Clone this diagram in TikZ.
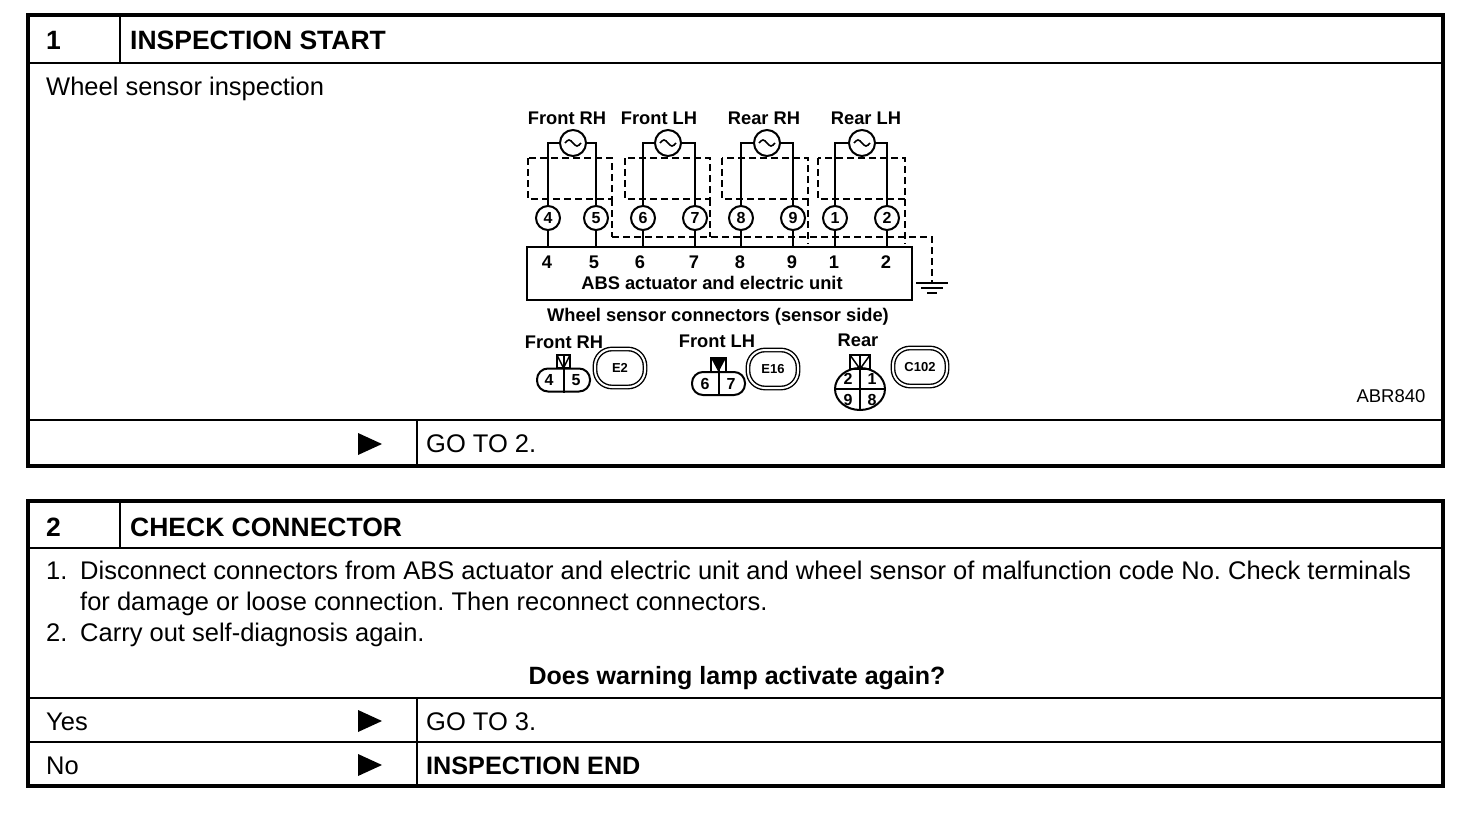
\documentclass[tikz,border=0pt]{standalone}
\usepackage{fontspec}
\setmainfont{Liberation Sans}
\usetikzlibrary{calc,shapes.geometric}
\frenchspacing
\begin{document}
\begin{tikzpicture}[x=1pt,y=-1pt,
  frame/.style={line width=4pt},
  rulel/.style={line width=2.5pt},
  body/.style={anchor=base west, inner sep=0pt, font=\fontsize{25.5}{30}\selectfont},
  bodyb/.style={anchor=base west, inner sep=0pt, font=\fontsize{25.2}{30}\selectfont\bfseries},
  headb/.style={anchor=base west, inner sep=0pt, font=\fontsize{26.5}{30}\selectfont\bfseries},
  wire/.style={line width=2pt},
  shield/.style={line width=2pt, dash pattern=on 7pt off 4pt},
  lab/.style={inner sep=0pt, font=\fontsize{18.3}{20}\selectfont\bfseries},
  sens/.style={circle, draw, line width=2pt, minimum size=26pt, inner sep=0pt},
  pin/.style={circle, draw, line width=2pt, minimum size=24pt, inner sep=0pt, font=\fontsize{16}{16}\selectfont\bfseries},
  conn/.style={draw, line width=2pt, rounded corners=11pt, minimum width=53pt, minimum height=23pt, inner sep=0pt},
  cnum/.style={inner sep=0pt, font=\fontsize{16}{16}\selectfont\bfseries},
  badge/.style={draw, line width=1.4pt, double distance=2pt, rounded corners=17pt, minimum height=38pt, inner sep=0pt, font=\fontsize{13}{13}\selectfont\bfseries}
]
\fill[white] (0,0) rectangle (1472,824);
\useasboundingbox (0,0) rectangle (1472,824);

% ---------- table 1 ----------
\draw[frame] (28,15) rectangle (1443,466);
\draw[rulel] (28,63) -- (1443,63);
\draw[rulel] (120,15) -- (120,63);
\draw[rulel] (28,420) -- (1443,420);
\draw[rulel] (417,420) -- (417,466);
\node[headb] (n1) at (46,50) {1};
\node[headb] (t1) at (130,50) {INSPECTION START};
\node[body] (w1) at (46,96) {Wheel sensor inspection};
\fill (358,433) -- (382,444) -- (358,455) -- cycle;
\node[body] (g1) at (426,452) {GO TO 2.};
\node[inner sep=0pt, font=\fontsize{18.5}{20}\selectfont] (abr) at (1391,396) {ABR840};

% ---------- wiring diagram ----------
\foreach \n/\x in {s1/573, s2/668, s3/767, s4/862}{
  \node[sens] (\n) at (\x,143) {};
  \draw[line width=1.6pt] ($(\n)+(-8,0)$) sin ++(4,-3) cos ++(4,3) sin ++(4,3) cos ++(4,-3);
}
\node[lab] (l1) at (567,118) {Front RH};
\node[lab] (l2) at (659,118) {Front LH};
\node[lab] (l3) at (764,118) {Rear RH};
\node[lab] (l4) at (866,118) {Rear LH};

\foreach \n/\x/\t in {p4/548/4, p5/596/5, p6/643/6, p7/695/7, p8/741/8, p9/793/9, p1/835/1, p2/887/2}{
  \node[pin] (\n) at (\x,218) {\t};
}
\node[draw, line width=2.5pt, minimum width=385pt, minimum height=53pt, inner sep=0pt] (abs) at (719.5,273.5) {};

\draw[wire] (p4.north) |- (s1.west);  \draw[wire] (p5.north) |- (s1.east);
\draw[wire] (p6.north) |- (s2.west);  \draw[wire] (p7.north) |- (s2.east);
\draw[wire] (p8.north) |- (s3.west);  \draw[wire] (p9.north) |- (s3.east);
\draw[wire] (p1.north) |- (s4.west);  \draw[wire] (p2.north) |- (s4.east);
\foreach \n in {p4,p5,p6,p7,p8,p9,p1,p2}{
  \draw[wire] (\n.south) -- (\n.south |- abs.north);
}
\foreach \n/\x/\t in {b4/547/4, b5/594/5, b6/640/6, b7/694/7, b8/740/8, b9/792/9, b1/834/1, b2/886/2}{
  \node[lab] (\n) at (\x,262) {\t};
}
\node[lab] (abst) at (712,283) {ABS actuator and electric unit};

% shields
\draw[shield] (528,158) rectangle (612,199);
\draw[shield] (625,158) rectangle (710,199);
\draw[shield] (722,158) rectangle (808,199);
\draw[shield] (818,158) rectangle (905,199);
\draw[shield] (612,199) -- (612,237);
\draw[shield] (710,199) -- (710,237);
\draw[shield] (808,199) -- (808,244);
\draw[shield] (905,199) -- (905,244);
\coordinate (gnd) at (932,283);
\draw[shield] (612,237) -- (932,237) -- (gnd);
\draw[wire] (916,283) -- (948,283);
\draw[wire] (921,288) -- (943,288);
\draw[wire] (927,293) -- (937,293);

% ---------- connectors ----------
\node[lab] (wsc) at (718,317) {Wheel sensor connectors (sensor side)};
\node[lab] (cl1) at (564,342) {Front RH};
\node[lab] (cl2) at (717,341) {Front LH};
\node[lab] (cl3) at (858,340) {Rear};

\node[conn] (c1) at (563.5,380) {};
\draw[wire] (563.5,355) -- (c1.south);
\draw[line width=1.5pt] (557,355) rectangle (570,368);
\draw[line width=1.5pt] (557,355) -- (563.5,368) -- (570,355);
\node[cnum] (c1a) at (549,380) {4};
\node[cnum] (c1b) at (576,380) {5};
\node[badge, minimum width=50pt] (e2) at (620,368) {E2};

\node[conn] (c2) at (718.5,383.5) {};
\draw[wire] (718.5,358) -- (c2.south);
\draw[line width=1.5pt] (711,358) rectangle (726,372);
\fill (711,358) -- (726,358) -- (718.5,372) -- cycle;
\node[cnum] (c2a) at (705,384) {6};
\node[cnum] (c2b) at (731,384) {7};
\node[badge, minimum width=50pt] (e16) at (773,369) {E16};

\node[ellipse, draw, line width=2pt, minimum width=50pt, minimum height=42pt, inner sep=0pt] (c3) at (860,389) {};
\draw[wire] (c3.west) -- (c3.east);
\draw[wire] (860,355) -- (c3.south);
\draw[line width=1.5pt] (850,355) rectangle (870,369);
\draw[line width=1.5pt] (850,355) -- (860,369) -- (870,355);
\node[cnum] (c3a) at (848,379) {2};
\node[cnum] (c3b) at (872,379) {1};
\node[cnum] (c3c) at (848,400) {9};
\node[cnum] (c3d) at (872,400) {8};
\node[badge, minimum width=54pt] (c102) at (920,367) {C102};

% ---------- table 2 ----------
\draw[frame] (28,501) rectangle (1443,786);
\draw[rulel] (28,548) -- (1443,548);
\draw[rulel] (120,501) -- (120,548);
\draw[rulel] (28,698) -- (1443,698);
\draw[rulel] (28,742) -- (1443,742);
\draw[rulel] (417,698) -- (417,786);
\node[headb] (n2) at (46,536) {2};
\node[headb] (t2) at (130,536) {CHECK CONNECTOR};
\node[body] (i1) at (46,579) {1.};
\node[body] (l1a) at (80,579) {Disconnect connectors from ABS actuator and electric unit and wheel sensor of malfunction code No. Check terminals};
\node[body] (l1b) at (80,610) {for damage or loose connection. Then reconnect connectors.};
\node[body] (i2) at (46,641) {2.};
\node[body] (l2a) at (80,641) {Carry out self-diagnosis again.};
\node[anchor=base, inner sep=0pt, font=\fontsize{25}{30}\selectfont\bfseries] (q) at (737,684) {Does warning lamp activate again?};
\node[body] (yes) at (46,730) {Yes};
\fill (358,710) -- (382,721) -- (358,732) -- cycle;
\node[body] (g3) at (426,730) {GO TO 3.};
\node[body] (no) at (46,774) {No};
\fill (358,754) -- (382,765) -- (358,776) -- cycle;
\node[bodyb] (end) at (426,774) {INSPECTION END};
\end{tikzpicture}
\end{document}
